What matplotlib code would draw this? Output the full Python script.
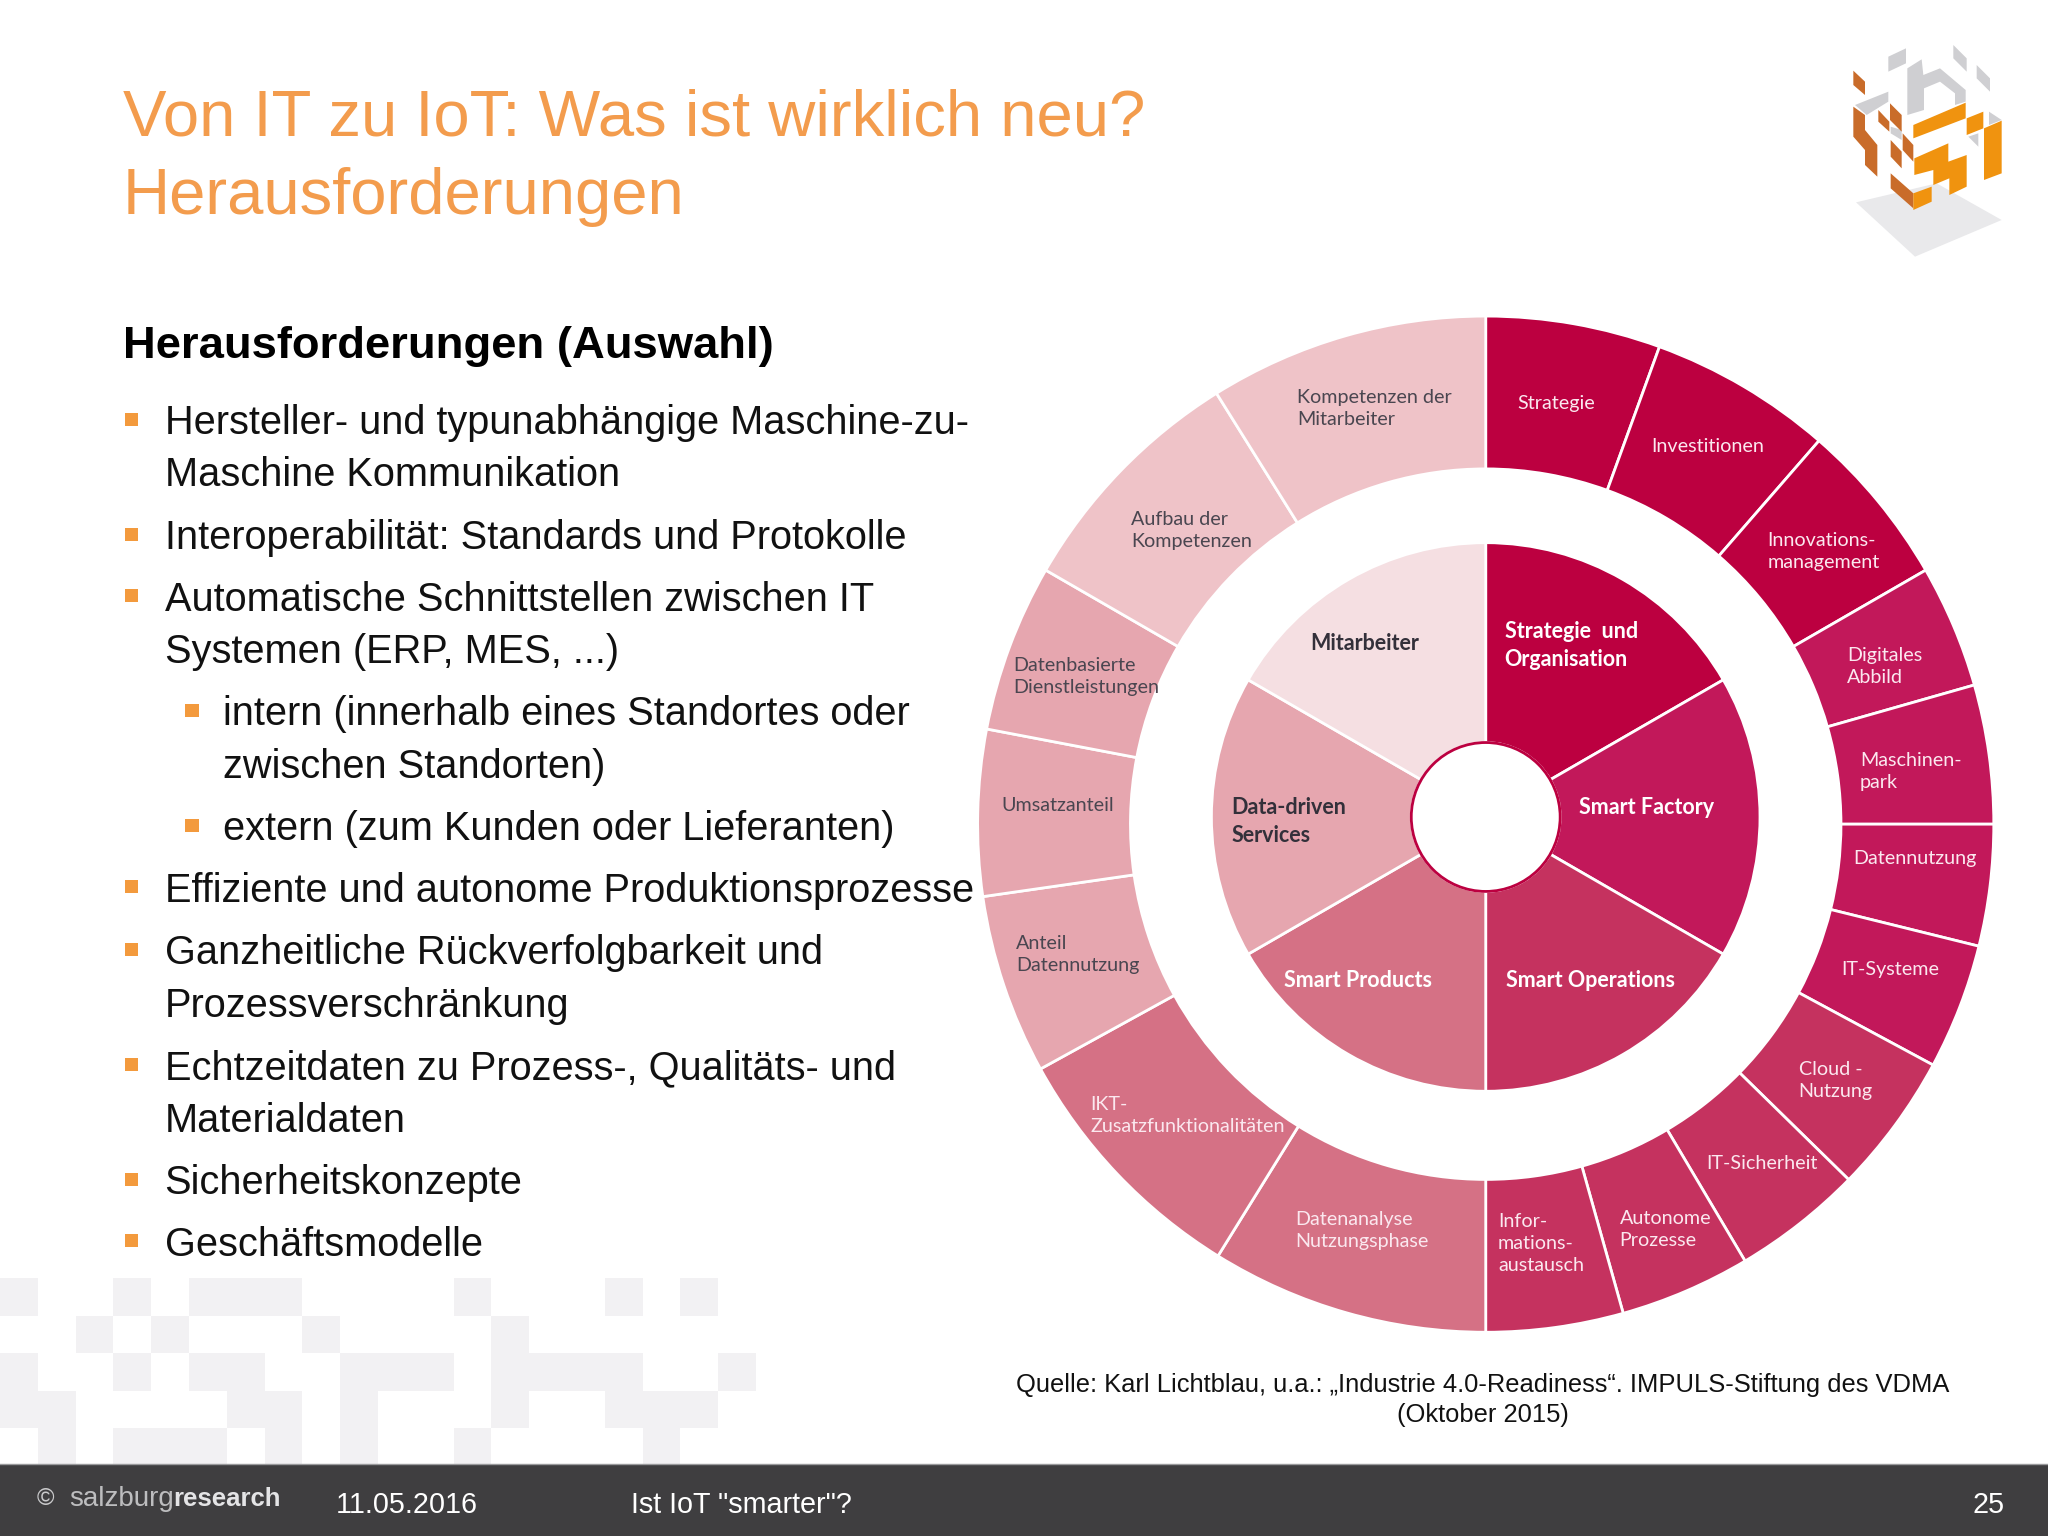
import matplotlib
matplotlib.use("Agg")
import matplotlib.pyplot as plt
from matplotlib.patches import Rectangle, Polygon, Circle

# ---- data ----
title_lines = ["Von IT zu IoT: Was ist wirklich neu?", "Herausforderungen"]
heading = "Herausforderungen (Auswahl)"
body_lines = [
    ("Hersteller- und typunabhängige Maschine-zu-", 0, True, 322),
    ("Maschine Kommunikation", 0, False, 362),
    ("Interoperabilität: Standards und Protokolle", 0, True, 410),
    ("Automatische Schnittstellen zwischen IT", 0, True, 457),
    ("Systemen (ERP, MES, ...)", 0, False, 497),
    ("intern (innerhalb eines Standortes oder", 1, True, 545),
    ("zwischen Standorten)", 1, False, 585),
    ("extern (zum Kunden oder Lieferanten)", 1, True, 633),
    ("Effiziente und autonome Produktionsprozesse", 0, True, 680),
    ("Ganzheitliche Rückverfolgbarkeit und", 0, True, 728),
    ("Prozessverschränkung", 0, False, 768),
    ("Echtzeitdaten zu Prozess-, Qualitäts- und", 0, True, 816),
    ("Materialdaten", 0, False, 856),
    ("Sicherheitskonzepte", 0, True, 904),
    ("Geschäftsmodelle", 0, True, 951),
]

inner_labels = ["Strategie  und\nOrganisation", "Smart Factory", "Smart Operations",
                "Smart Products", "Data-driven\nServices", "Mitarbeiter"]
inner_values = [60, 60, 60, 60, 60, 60]
inner_colors = ["#BC0040", "#C2185A", "#C5325F", "#D57185", "#E6A6AF", "#F5DFE2"]
inner_text_pos = [(1152, 494), (1209, 618), (1153, 751), (983, 751), (943, 629), (1003, 493)]
inner_text_col = ["white", "white", "white", "white", "#33303A", "#33303A"]

outer_labels = ["Strategie", "Investitionen", "Innovations-\nmanagement", "Digitales\nAbbild",
                "Maschinen-\npark", "Datennutzung", "IT-Systeme", "Cloud -\nNutzung",
                "IT-Sicherheit", "Autonome\nProzesse", "Infor-\nmations-\naustausch",
                "Datenanalyse\nNutzungsphase", "IKT-\nZusatzfunktionalitäten",
                "Anteil\nDatennutzung", "Umsatzanteil", "Datenbasierte\nDienstleistungen",
                "Aufbau der\nKompetenzen", "Kompetenzen der\nMitarbeiter"]
outer_values = [20, 21, 19, 14.1, 15.9, 13.9, 14.4, 16.1, 14.9, 15, 15.7,
                31.8, 29.4, 20.6, 19, 19.2, 28, 32]
outer_colors = ["#BC0040"] * 3 + ["#C2185A"] * 4 + ["#C5325F"] * 4 + ["#D57185"] * 2 + \
               ["#E6A6AF"] * 3 + ["#EFC3C8"] * 2
outer_text_pos = [(1162, 309), (1264, 342), (1353, 422), (1414, 510), (1424, 591), (1419, 657),
                  (1410, 742), (1377, 827), (1306, 891), (1240, 941), (1147, 952), (992, 942),
                  (835, 854), (778, 731), (767, 617), (776, 518), (866, 406), (993, 313)]
outer_text_col = ["#FBE8EF"] * 13 + ["#4A4650"] * 5

source_lines = ["Quelle: Karl Lichtblau, u.a.: „Industrie 4.0-Readiness“. IMPULS-Stiftung des VDMA",
                "(Oktober 2015)"]
footer_date = "11.05.2016"
footer_topic = 'Ist IoT "smarter"?'
footer_page = "25"

# background pixel pattern: row -> occupied columns
pattern_rows = [[0, 3, 5, 6, 7, 12, 16, 18],
                [2, 4, 8, 13],
                [0, 3, 5, 6, 9, 10, 11, 13, 14, 15, 16, 19],
                [0, 1, 6, 7, 9, 13, 16, 17, 18],
                [1, 3, 4, 5, 7, 9, 12, 17]]

# logo polygons, in crop pixels
logo_shadow = [(108, 517), (350, 460), (545, 570), (285, 680)]
logo_grey = [
    [(205, 80), (258, 55), (258, 100), (205, 125)],
    [(400, 45), (440, 85), (440, 125), (400, 85)],
    [(470, 105), (510, 145), (510, 185), (470, 145)],
    [(262, 115), (305, 88), (310, 135), (360, 115), (437, 180), (437, 215), (405, 225),
     (405, 190), (360, 155), (312, 175), (312, 240), (262, 255)],
    [(105, 225), (205, 185), (205, 215), (140, 255)],
    [(212, 290), (245, 300), (245, 330), (212, 310)],
    [(445, 320), (475, 310), (475, 350)],
    [(507, 245), (545, 270), (507, 285)],
]
logo_dark = [
    [(100, 122), (135, 155), (135, 195), (100, 165)],
    [(100, 230), (135, 255), (135, 300), (172, 345), (172, 440), (135, 405), (135, 360), (100, 320)],
    [(175, 240), (208, 275), (208, 305), (175, 275)],
    [(210, 220), (245, 255), (245, 305), (210, 270)],
    [(248, 310), (280, 345), (280, 395), (248, 360)],
    [(212, 330), (245, 365), (245, 415), (212, 380)],
    [(212, 430), (280, 490), (280, 535), (212, 475)],
]
logo_orange = [
    [(280, 285), (437, 218), (437, 265), (280, 325)],
    [(440, 265), (490, 245), (490, 295), (440, 315)],
    [(492, 295), (545, 272), (545, 430), (492, 450)],
    [(283, 385), (385, 340), (385, 395), (440, 375), (440, 470), (388, 495), (388, 445),
     (340, 465), (340, 420), (283, 435)],
    [(280, 490), (335, 470), (335, 515), (280, 540)],
]

# ---- figure ----
SANS = ["Liberation Sans", "DejaVu Sans"]
CHART = ["Lato", "DejaVu Sans"]
ORANGE = "#F39C4D"
K = 1568 / 2048

fig = plt.figure(figsize=(20.48, 15.36), dpi=100, facecolor="white")
ax = fig.add_axes([0, 0, 1, 1])

# background pattern
for r, cols in enumerate(pattern_rows):
    y0 = 1278 + r * 37.6
    for c in cols:
        ax.add_patch(Rectangle((c * 37.8 * K, y0 * K), 37.8 * K, 37.6 * K,
                               fc="#F2F1F3", ec="none", zorder=0))

# logo
def logo_pts(poly):
    return [((1820 + x / 3) * K, (30 + y / 3) * K) for x, y in poly]

ax.add_patch(Polygon(logo_pts(logo_shadow), fc="#E9E9EB", ec="none", zorder=1))
for p in logo_grey:
    ax.add_patch(Polygon(logo_pts(p), fc="#CFCFD2", ec="none", zorder=2))
for p in logo_dark:
    ax.add_patch(Polygon(logo_pts(p), fc="#C96C2A", ec="none", zorder=2))
for p in logo_orange:
    ax.add_patch(Polygon(logo_pts(p), fc="#F0930F", ec="none", zorder=2))

# rings
ax.pie(outer_values, colors=outer_colors, radius=389, center=(1137.5, 631), startangle=-90,
       counterclock=True, frame=True,
       wedgeprops=dict(width=117, edgecolor="white", linewidth=2, zorder=3))
ax.pie(inner_values, colors=inner_colors, radius=210, center=(1137.5, 625.5), startangle=-90,
       counterclock=True, frame=True,
       wedgeprops=dict(width=153, edgecolor="white", linewidth=2, zorder=3))
ax.add_patch(Circle((1137.5, 625.5), 57, fc="white", ec="#BC0040", lw=2, zorder=4))
ax.set_xlim(0, 1568)
ax.set_ylim(1176, 0)
ax.set_aspect("auto")
ax.axis("off")

for lab, (x, y), col in zip(outer_labels, outer_text_pos, outer_text_col):
    ax.text(x, y, lab, family=CHART, fontsize=14.2, color=col, ha="left", va="center",
            linespacing=1.36, zorder=5)
for lab, (x, y), col in zip(inner_labels, inner_text_pos, inner_text_col):
    ax.text(x, y, lab, family=CHART, fontsize=15.5, fontweight="bold", color=col, ha="left",
            va="center", linespacing=1.4, zorder=5)

# slide text
for line, y in zip(title_lines, (91, 151)):
    ax.text(94, y, line, family=SANS, fontsize=47, color=ORANGE, ha="left", va="center", zorder=5)
ax.text(94, 265, heading, family=SANS, fontsize=32.7, fontweight="bold", color="black",
        ha="left", va="center", zorder=5)
for text, level, bullet, y in body_lines:
    x = 126 if level == 0 else 171
    ax.text(x, y + 2, text, family=SANS, fontsize=28.6, color="#111111", ha="left", va="center", zorder=5)
    if bullet:
        bx = 96 if level == 0 else 142
        ax.add_patch(Rectangle((bx, y - 6), 10, 10, fc="#F39A3D", ec="none", zorder=5))

for line, y in zip(source_lines, (1060.5, 1083.5)):
    ax.text(1135, y, line, family=SANS, fontsize=18.4, color="#111111", ha="center", va="center", zorder=5)

# footer
ax.add_patch(Rectangle((0, 1121), 1568, 55, fc="#3F3E40", ec="none", zorder=5))
ax.plot([0, 1568], [1121, 1121], color="#9A9A9C", lw=1, zorder=6)
ax.text(28, 1148, "©", family=SANS, fontsize=17, color="#C9C9CB", ha="left", va="center", zorder=6)
ax.text(53, 1148, "salzburg", family=SANS, fontsize=20, color="#BDBDBF", ha="left", va="center", zorder=6)
ax.text(133, 1148, "research", family=SANS, fontsize=18.5, fontweight="bold", color="#E4E4E6",
        ha="left", va="center", zorder=6)
ax.text(257, 1152, footer_date, family=SANS, fontsize=20.7, color="white", ha="left", va="center", zorder=6)
ax.text(483, 1152, footer_topic, family=SANS, fontsize=20.7, color="white", ha="left", va="center", zorder=6)
ax.text(1535, 1152, footer_page, family=SANS, fontsize=20.7, color="white", ha="right", va="center", zorder=6)

fig.savefig("out.png", dpi=100)
